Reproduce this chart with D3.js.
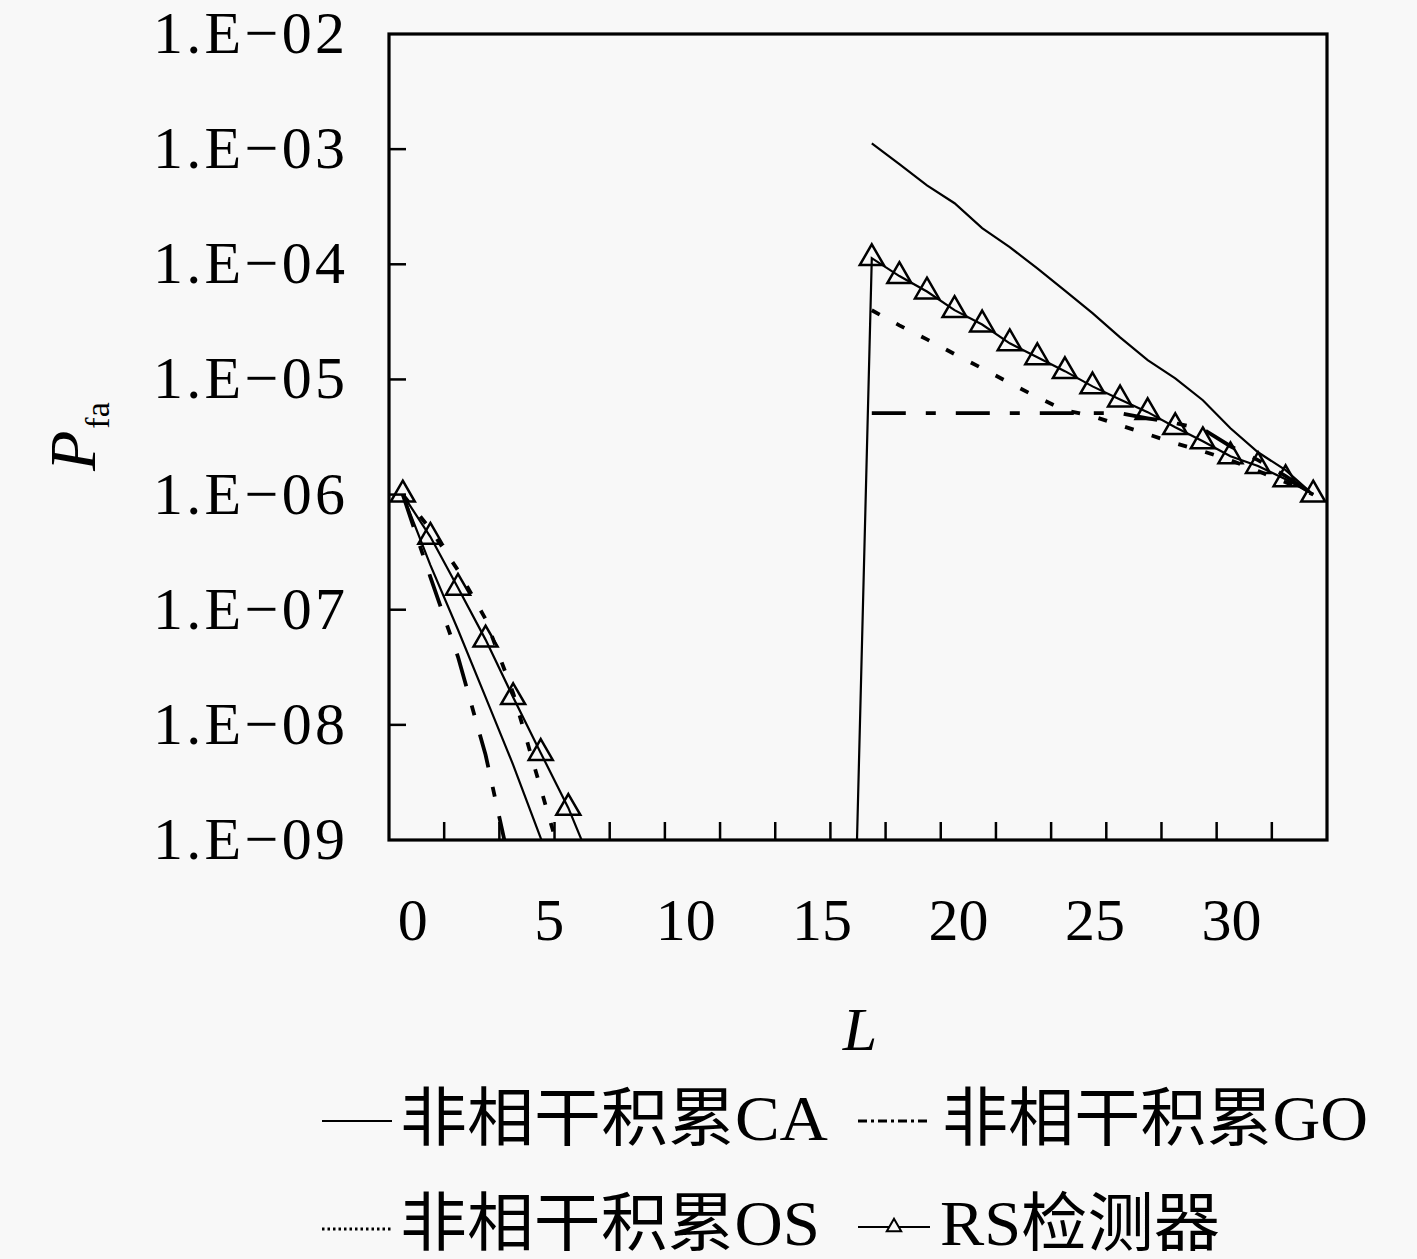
<!DOCTYPE html>
<html><head><meta charset="utf-8">
<script src="https://cdn.jsdelivr.net/npm/d3@7"></script>
<style>
html,body{margin:0;padding:0;background:#f8f8f8;}
svg{display:block;}
</style></head>
<body>
<svg id="c" width="1417" height="1259"></svg>
<script>
// ---- data ----
const L = d3.range(0, 34);
const xTickLabels = [0, 5, 10, 15, 20, 25, 30];
const yTickValues = [1e-9, 1e-8, 1e-7, 1e-6, 1e-5, 1e-4, 1e-3, 1e-2];
const yTickLabels = ["1.E\u221209","1.E\u221208","1.E\u221207","1.E\u221206","1.E\u221205","1.E\u221204","1.E\u221203","1.E\u221202"];
const N = null;
const caValues = [1e-6, 2.44e-7, 6.7e-8, 1.74e-8, 4.5e-9, 1.04e-9, 2.3e-10,
  N,N,N,N,N,N,N,N,N,N,
  1.12e-3, 7.4e-4, 4.85e-4, 3.39e-4, 2.06e-4, 1.41e-4, 9.2e-5, 5.9e-5, 3.76e-5, 2.32e-5,
  1.47e-5, 1.02e-5, 6.6e-6, 3.77e-6, 2.33e-6, 1.63e-6, 1.0e-6];
const goValues = [1e-6, 1.92e-7, 3.9e-8, 5.5e-9, 4.5e-10,
  N,N,N,N,N,N,N,N,N,N,N,N,
  5.1e-6, 5.1e-6, 5.1e-6, 5.1e-6, 5.1e-6, 5.1e-6, 5.1e-6, 5.1e-6, 5.1e-6, 5.1e-6,
  4.6e-6, 4.17e-6, 3.7e-6, 2.63e-6, 1.99e-6, 1.45e-6, 1.0e-6];
const osValues = [1e-6, 5.0e-7, 2.2e-7, 8.3e-8, 1.89e-8, 2.8e-9, 4.2e-10,
  N,N,N,N,N,N,N,N,N,N,
  3.99e-5, 2.95e-5, 2.23e-5, 1.66e-5, 1.25e-5, 9.3e-6, 7.0e-6, 5.4e-6, 4.8e-6, 4.0e-6,
  3.34e-6, 2.79e-6, 2.38e-6, 1.99e-6, 1.6e-6, 1.28e-6, 1.0e-6];
const rsValues = [1e-6, 4.3e-7, 1.55e-7, 5.5e-8, 1.74e-8, 5.7e-9, 1.9e-9, 5e-10,
  N,N,N,N,N,N,N,N,
  4.3e-14,
  1.13e-4, 7.9e-5, 5.8e-5, 4.0e-5, 3.0e-5, 2.06e-5, 1.56e-5, 1.18e-5, 8.7e-6, 6.7e-6,
  5.2e-6, 3.85e-6, 2.9e-6, 2.15e-6, 1.77e-6, 1.36e-6, 1.0e-6];
const seriesNames = ["非相干积累CA", "非相干积累GO", "非相干积累OS", "RS检测器"];

(function(){
// ---- layout ----
const svg = d3.select("#c");
const pL = 389, pR = 1327, pT = 34, pB = 840;
const x = d3.scaleLinear().domain([-0.5, 33.5]).range([pL, pR]);
const y = d3.scaleLog().domain([1e-9, 1e-2]).range([pB, pT]);
const xLab = d3.scaleLinear().domain([0, 30]).range([x(0) + 10, x(30) + 1]);
const serif = "'Liberation Serif', 'Times New Roman', serif";
const cjk = "'Liberation Serif', 'Noto Sans CJK SC', serif";

svg.append("rect").attr("width",1417).attr("height",1259).attr("fill","#f8f8f8");

svg.append("clipPath").attr("id","clip").append("rect")
  .attr("x", pL).attr("y", pT).attr("width", pR-pL).attr("height", pB-pT);

const plot = svg.append("g").attr("clip-path","url(#clip)");
const line = d3.line().defined(d => d.v != null).x(d => x(d.l)).y(d => y(d.v));
const mk = vals => L.map((l,i) => ({l, v: vals[i]}));

const styles = [
  {vals: caValues, dash: null, w: 2.2},
  {vals: goValues, dash: "34,20,10,20", w: 3.8},
  {vals: osValues, dash: "9,19", w: 3.8},
  {vals: rsValues, dash: null, w: 2.2}
];
styles.forEach(s => {
  plot.append("path").datum(mk(s.vals))
    .attr("d", line).attr("fill","none").attr("stroke","#000")
    .attr("stroke-width", s.w).attr("stroke-dasharray", s.dash);
});
const tri = d3.symbol().type(d3.symbolTriangle).size(250);
plot.selectAll(".tri").data(mk(rsValues).filter(d => d.v != null && d.v >= 1e-9))
  .enter().append("path")
  .attr("transform", d => `translate(${x(d.l)},${y(d.v)})`)
  .attr("d", tri).attr("fill","none").attr("stroke","#000").attr("stroke-width",2.5);

// ---- frame & ticks ----
const ax = svg.append("g");
ax.append("rect").attr("x",pL).attr("y",pT).attr("width",pR-pL).attr("height",pB-pT)
  .attr("fill","none").attr("stroke","#000").attr("stroke-width",3.2);
const xTickPos = d3.range(1.5, 32, 2);
ax.selectAll(".xt").data(xTickPos).enter().append("line")
  .attr("x1", d => x(d)).attr("x2", d => x(d)).attr("y1", pB).attr("y2", pB-18)
  .attr("stroke","#000").attr("stroke-width",2.5);
ax.selectAll(".yt").data(yTickValues.slice(1,-1)).enter().append("line")
  .attr("x1", pL).attr("x2", pL+17).attr("y1", d => y(d)).attr("y2", d => y(d))
  .attr("stroke","#000").attr("stroke-width",2.5);

// tick labels
ax.selectAll(".xl").data(xTickLabels).enter().append("text")
  .attr("x", d => xLab(d)).attr("y", 940)
  .attr("text-anchor","middle").attr("font-family",serif).attr("font-size",60)
  .text(d => d);
ax.selectAll(".yl").data(yTickValues).enter().append("text")
  .attr("x", 345).attr("y", d => y(d) + 19)
  .attr("text-anchor","end").attr("font-family",serif).attr("font-size",60)
  .attr("textLength",192).attr("lengthAdjust","spacing")
  .text((d,i) => yTickLabels[i]);

// axis titles
const yt = svg.append("text").attr("transform","translate(95,471) rotate(-90)")
  .attr("font-family",serif).attr("font-size",66);
yt.append("tspan").attr("font-style","italic").text("P");
yt.append("tspan").attr("font-size",34).attr("dy",14).attr("dx",2).text("fa");
svg.append("text").attr("x",860).attr("y",1050).attr("text-anchor","middle")
  .attr("font-family",serif).attr("font-style","italic").attr("font-size",62).text("L");

// ---- legend ----
const lg = svg.append("g");
const legendItems = [
  {name: seriesNames[0], x1: 322, x2: 392, tx: 400, ty: 1140, ly: 1121, tl: 428, dash: null, w: 2.2},
  {name: seriesNames[1], x1: 858, x2: 930, tx: 942, ty: 1140, ly: 1121, tl: 426, dash: "9,4,3,4", w: 3.2},
  {name: seriesNames[2], x1: 322, x2: 392, tx: 400, ty: 1245, ly: 1229, tl: 420, dash: "2.5,3", w: 3},
  {name: seriesNames[3], x1: 858, x2: 930, tx: 940, ty: 1245, ly: 1227, tl: 280, dash: null, w: 2.2, marker: true}
];
legendItems.forEach(it => {
  lg.append("line").attr("x1",it.x1).attr("x2",it.x2).attr("y1",it.ly).attr("y2",it.ly)
    .attr("stroke","#000").attr("stroke-width",it.w).attr("stroke-dasharray",it.dash);
  if (it.marker) {
    lg.append("path").attr("transform",`translate(${(it.x1+it.x2)/2},${it.ly})`)
      .attr("d", d3.symbol().type(d3.symbolTriangle).size(90))
      .attr("fill","#f8f8f8").attr("stroke","#000").attr("stroke-width",2);
  }
  lg.append("text").attr("x",it.tx).attr("y",it.ty)
    .attr("font-family",cjk).attr("font-size",64)
    .attr("textLength",it.tl).attr("lengthAdjust","spacingAndGlyphs")
    .text(it.name);
});
})();
</script>
</body></html>
